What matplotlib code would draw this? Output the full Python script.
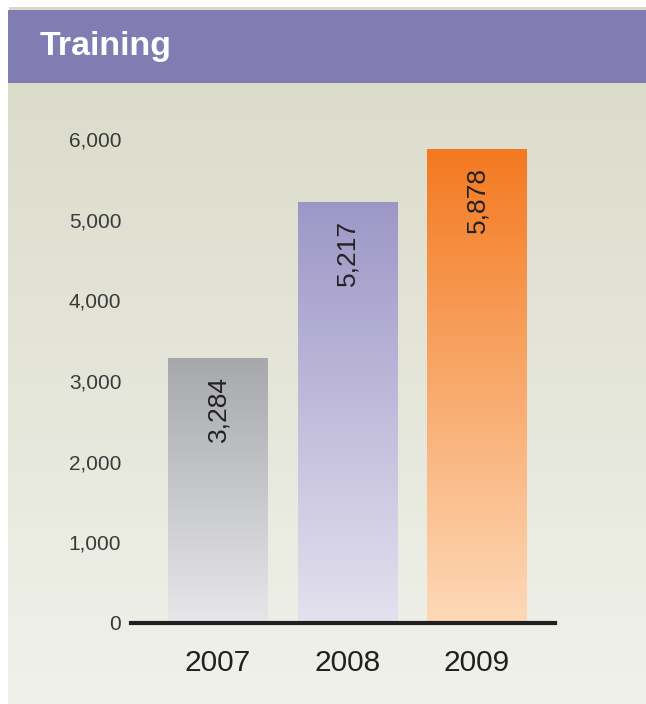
import matplotlib.pyplot as plt
import numpy as np
from matplotlib.colors import LinearSegmentedColormap
from matplotlib.patches import Rectangle
from matplotlib.ticker import FuncFormatter

plt.rcParams['font.family'] = ['Liberation Sans', 'DejaVu Sans']

years = ['2007', '2008', '2009']
values = [3284, 5217, 5878]
value_labels = ['3,284', '5,217', '5,878']
yticks = [0, 1000, 2000, 3000, 4000, 5000, 6000]
title = 'Training'

# gradient (top colour, bottom colour) for each bar
bar_grads = [('#a6a8ab', '#e7e7ea'),
             ('#9d97c7', '#e4e1ef'),
             ('#f47920', '#fed9b8')]

W, H = 646, 704
fig = plt.figure(figsize=(W / 100, H / 100), dpi=100)
fig.patch.set_facecolor('white')

# background panel with vertical gradient
bg = fig.add_axes([0, 0, 1, 1])
bg.set_xlim(0, W)
bg.set_ylim(H, 0)
bg.axis('off')
bg_cmap = LinearSegmentedColormap.from_list('bg', ['#dbdcca', '#f0f1ea'])
bg.imshow(np.linspace(0, 1, 256).reshape(-1, 1), cmap=bg_cmap, aspect='auto',
          extent=[8, W, H, 83], zorder=0)
bg.add_patch(Rectangle((9, 7), W - 9, 3, color='#d8d9c6', zorder=1, lw=0))
bg.add_patch(Rectangle((8, 10), W - 8, 73, color='#817cb1', zorder=1, lw=0))
bg.text(40, 47, title, color='white', fontsize=24.5, fontweight='bold',
        va='center', ha='left')

# main chart
x0, x1 = 131, 555
y_zero, y_top = 623, 139
ax = fig.add_axes([x0 / W, (H - y_zero) / H, (x1 - x0) / W, (y_zero - y_top) / H])
ax.patch.set_alpha(0)
step = 129.5
xpos = np.arange(len(years))
ax.set_xlim(-(218 - x0) / step, (x1 - 218) / step)
ax.set_ylim(0, 6000)

bars = ax.bar(xpos, values, width=100 / step, color='none', zorder=2)
grad = np.linspace(0, 1, 256).reshape(-1, 1)
for b, (top, bottom), lab in zip(bars, bar_grads, value_labels):
    cm = LinearSegmentedColormap.from_list('g', [top, bottom])
    bx, bw, bh = b.get_x(), b.get_width(), b.get_height()
    im = ax.imshow(grad, cmap=cm, aspect='auto',
                   extent=[bx, bx + bw, 0, bh], zorder=1)
    im.set_clip_path(b)
    ax.annotate(lab, (bx + bw / 2, bh), xytext=(0, -13), textcoords='offset points',
                rotation=90, ha='center', va='top', fontsize=19, color='#222222')

for s in ['top', 'right', 'left']:
    ax.spines[s].set_visible(False)
ax.spines['bottom'].set_linewidth(3)
ax.spines['bottom'].set_color('#231f20')
ax.spines['bottom'].set_zorder(3)

ax.set_yticks(yticks)
ax.yaxis.set_major_formatter(FuncFormatter(lambda v, p: f'{int(v):,}'))
ax.set_xticks(xpos)
ax.set_xticklabels(years)
ax.tick_params(axis='y', length=0, pad=7, labelsize=15, labelcolor='#3a3a3a')
ax.tick_params(axis='x', length=0, pad=19, labelsize=21.5, labelcolor='#231f20')

fig.savefig('out.png', dpi=100)
